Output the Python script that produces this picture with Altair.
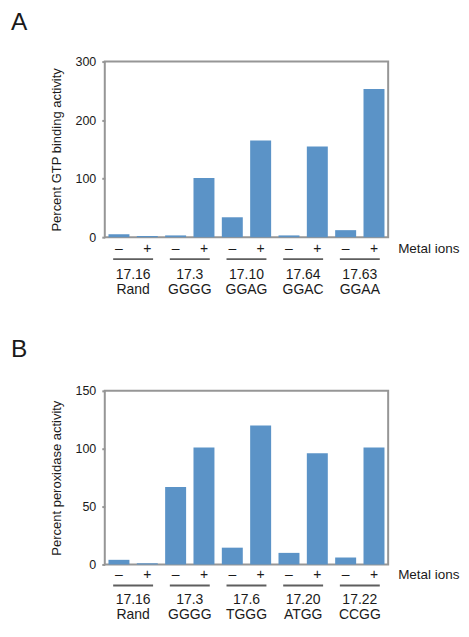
import altair as alt
import pandas as pd

signs = ["–", "+"]

a_ids = ["17.16", "17.3", "17.10", "17.64", "17.63"]
a_seqs = ["Rand", "GGGG", "GGAG", "GGAC", "GGAA"]
a_minus = [5, 3, 34, 3, 12]
a_plus = [2, 101, 165, 155, 253]
a_ticks = [0, 100, 200, 300]

b_ids = ["17.16", "17.3", "17.6", "17.20", "17.22"]
b_seqs = ["Rand", "GGGG", "TGGG", "ATGG", "CCGG"]
b_minus = [4, 67, 14.5, 10, 6]
b_plus = [1, 101, 120, 96, 101]
b_ticks = [0, 50, 100, 150]

W = 284
FONT = "Liberation Sans"
BAR = "#5b93c7"
TXT = "#1a1a1a"


def panel(letter, letter_dy, H, off, ids, seqs, minus, plus, ticks, ytitle):
    sign_dy, line_dy, lab_dy = off
    rows = []
    for g, m, p in zip(ids, minus, plus):
        rows.append({"group": g, "sign": signs[0], "value": m})
        rows.append({"group": g, "sign": signs[1], "value": p})
    bars_df = pd.DataFrame(rows)
    labels_df = pd.DataFrame({"group": ids,
                              "label": [i + "\n" + s for i, s in zip(ids, seqs)]})

    xenc = alt.X("group:N", scale=alt.Scale(domain=ids, paddingInner=0, paddingOuter=0),
                 axis=None)
    xoff = alt.XOffset("sign:N", scale=alt.Scale(domain=signs, paddingInner=0.26,
                                                 paddingOuter=0.13))

    bars = alt.Chart(bars_df).mark_bar(color=BAR).encode(
        x=xenc, xOffset=xoff,
        y=alt.Y("value:Q", scale=alt.Scale(domain=[ticks[0], ticks[-1]], nice=False),
                axis=alt.Axis(values=ticks, title=ytitle, grid=False, domain=False,
                              tickColor="#969696", tickSize=3, tickWidth=2,
                              labelFontSize=12.5, labelColor=TXT, labelPadding=6,
                              labelFont=FONT, titleFont=FONT, titleFontSize=13,
                              titleFontWeight="normal", titleColor=TXT,
                              titlePadding=12)),
    )
    sign_text = alt.Chart(bars_df).mark_text(
        font=FONT, fontSize=14, color=TXT, baseline="alphabetic"
    ).encode(x=xenc, xOffset=xoff, text="sign:N", y=alt.value(H + sign_dy))

    underline = alt.Chart(labels_df).mark_tick(
        orient="horizontal", size=40, thickness=2, color=TXT
    ).encode(x=xenc, y=alt.value(H + line_dy))

    group_text = alt.Chart(labels_df).mark_text(
        font=FONT, fontSize=14, color=TXT, baseline="alphabetic",
        lineBreak="\n", lineHeight=15
    ).encode(x=xenc, text="label:N", y=alt.value(H + lab_dy))

    metal = alt.Chart(pd.DataFrame({"t": ["Metal ions"]})).mark_text(
        font=FONT, fontSize=13.5, color=TXT, align="left", baseline="alphabetic"
    ).encode(text="t:N", x=alt.value(W + 10), y=alt.value(H + sign_dy))

    letter_mark = alt.Chart(pd.DataFrame({"t": [letter]})).mark_text(
        font=FONT, fontSize=24.5, color=TXT, align="left", baseline="alphabetic"
    ).encode(text="t:N", x=alt.value(-94), y=alt.value(letter_dy))

    return alt.layer(bars, sign_text, underline, group_text, metal, letter_mark).properties(
        width=W, height=H)


pa = panel("A", -32, 176, (16, 22, 42), a_ids, a_seqs, a_minus, a_plus, a_ticks,
           "Percent GTP binding activity")
pb = panel("B", -34, 174, (15, 21, 40), b_ids, b_seqs, b_minus, b_plus, b_ticks,
           "Percent peroxidase activity")

chart = alt.vconcat(pa, pb, spacing=154, bounds="flush").resolve_scale(
    x="independent", y="independent"
).properties(
    padding={"left": 2, "top": 0, "right": 0, "bottom": 0}
).configure_view(stroke="#969696", strokeWidth=2)

chart.save("out.html", embed_options={"renderer": "svg", "actions": False})
